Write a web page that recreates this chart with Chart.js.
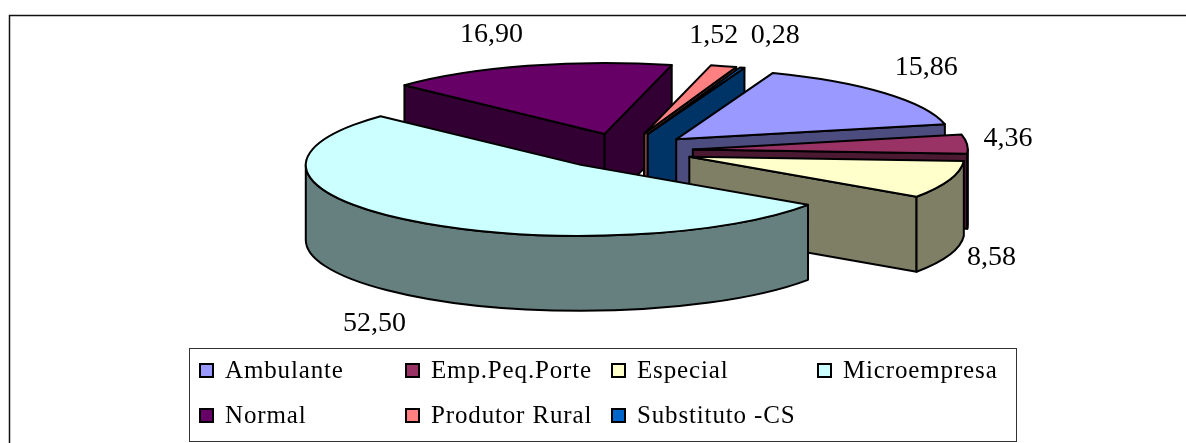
<!DOCTYPE html>
<html>
<head>
<meta charset="utf-8">
<style>
  html, body { margin: 0; padding: 0; background: #fff; }
  canvas { display: block; }
</style>
<script src="https://cdn.jsdelivr.net/npm/chart.js@4/dist/chart.umd.js"></script>
</head>
<body>
<canvas id="pieChart" width="1186" height="443"></canvas>
<script>
const categories = ['Ambulante', 'Emp.Peq.Porte', 'Especial', 'Microempresa', 'Normal', 'Produtor Rural', 'Substituto -CS'];
const shares = [15.86, 4.36, 8.58, 52.50, 16.90, 1.52, 0.28];
const sliceColors = ['#9999FF', '#993366', '#FFFFCC', '#CCFFFF', '#660066', '#FF8080', '#0066CC'];

// how the flat pie is tilted, exploded and extruded
const TILT = 0.258;
const DEPTH = 75;
const PIE_RADIUS = 275;
const EXPLODE = 69;
const EDGE = 2;

// label shift away from the rim point of each slice
const labelShift = [[42, -25], [41, -5], [42, 78], [-34, 103], [-36, -31], [-10, -30], [33, -32]];

// legend grid
const legendColumns = [199, 405, 611, 817];
const legendRows = [371, 416];

// halves each channel, the darker tone of the slice walls
function wallColor(hex) {
  const n = parseInt(hex.slice(1), 16);
  const r = (n >> 16) >> 1;
  const g = ((n >> 8) & 255) >> 1;
  const b = (n & 255) >> 1;
  return `rgb(${r},${g},${b})`;
}

const pie3d = {
  id: 'pie3d',
  // the library's own arcs are painted here, squeezed, after their walls
  beforeDatasetsDraw(chart) {
    const ctx = chart.ctx;
    const arcs = chart.getDatasetMeta(0).data;
    const order = arcs.map((arc, i) => i).sort((a, b) => {
      const midA = (arcs[a].startAngle + arcs[a].endAngle) / 2;
      const midB = (arcs[b].startAngle + arcs[b].endAngle) / 2;
      return Math.sin(midA) - Math.sin(midB);
    });

    order.forEach(i => {
      const arc = arcs[i];
      const mid = (arc.startAngle + arc.endAngle) / 2;
      const apexX = arc.x + Math.cos(mid) * EXPLODE;
      const apexY = arc.y + Math.sin(mid) * EXPLODE * TILT;
      const R = arc.outerRadius;
      const rimX = a => apexX + Math.cos(a) * R;
      const rimY = a => apexY + Math.sin(a) * R * TILT;

      ctx.save();
      ctx.fillStyle = wallColor(sliceColors[i]);
      ctx.strokeStyle = '#000';
      ctx.lineWidth = EDGE;
      ctx.lineJoin = 'round';

      const radialWall = a => {
        ctx.beginPath();
        ctx.moveTo(apexX, apexY);
        ctx.lineTo(rimX(a), rimY(a));
        ctx.lineTo(rimX(a), rimY(a) + DEPTH);
        ctx.lineTo(apexX, apexY + DEPTH);
        ctx.closePath();
        ctx.fill();
        ctx.stroke();
      };
      // a radial wall only faces the viewer on one side of the pie
      if (Math.cos(arc.startAngle) < 0) radialWall(arc.startAngle);
      if (Math.cos(arc.endAngle) > 0) radialWall(arc.endAngle);

      // outer wall, only the front half of the rim
      const twoPi = Math.PI * 2;
      const from = ((arc.startAngle % twoPi) + twoPi) % twoPi;
      const to = from + (arc.endAngle - arc.startAngle);
      const a0 = from > Math.PI ? (to > twoPi ? twoPi : null) : from;
      const a1 = a0 === null ? null : Math.min(to, a0 >= twoPi ? twoPi + Math.PI : Math.PI);
      if (a0 !== null && a1 > a0) {
        ctx.beginPath();
        ctx.ellipse(apexX, apexY, R, R * TILT, 0, a0, a1);
        ctx.lineTo(rimX(a1), rimY(a1) + DEPTH);
        ctx.ellipse(apexX, apexY + DEPTH, R, R * TILT, 0, a1, a0, true);
        ctx.closePath();
        ctx.fill();
        ctx.stroke();
      }
      ctx.restore();

      // top face, filled by the arc element under the squeeze
      ctx.save();
      ctx.translate(0, arc.y);
      ctx.scale(1, TILT);
      ctx.translate(0, -arc.y);
      ctx.translate(Math.cos(mid) * EXPLODE, Math.sin(mid) * EXPLODE);
      arc.draw(ctx, chart.chartArea);
      ctx.restore();

      // outline drawn unsqueezed so the pen stays even
      ctx.save();
      ctx.strokeStyle = '#000';
      ctx.lineWidth = EDGE;
      ctx.lineJoin = 'round';
      ctx.beginPath();
      ctx.moveTo(apexX, apexY);
      ctx.ellipse(apexX, apexY, R, R * TILT, 0, arc.startAngle, arc.endAngle);
      ctx.closePath();
      ctx.stroke();
      ctx.restore();
    });
    return false;
  },
  afterDraw(chart) {
    const ctx = chart.ctx;
    const arcs = chart.getDatasetMeta(0).data;

    ctx.save();
    ctx.fillStyle = '#000';
    ctx.textBaseline = 'middle';

    // value labels
    ctx.font = '28px "Liberation Serif"';
    ctx.textAlign = 'center';
    arcs.forEach((arc, i) => {
      const mid = (arc.startAngle + arc.endAngle) / 2;
      const reach = EXPLODE + arc.outerRadius;
      const x = arc.x + Math.cos(mid) * reach + labelShift[i][0];
      const y = arc.y + Math.sin(mid) * reach * TILT + labelShift[i][1];
      ctx.fillText(shares[i].toFixed(2).replace('.', ','), x, y);
    });

    // outer frame, runs off the right and bottom of the page
    ctx.strokeStyle = '#111';
    ctx.lineWidth = 1.5;
    ctx.strokeRect(9.5, 15.5, 1300, 500);

    // legend box
    ctx.fillStyle = '#fff';
    ctx.strokeStyle = '#333';
    ctx.lineWidth = 1;
    ctx.fillRect(189.5, 348.5, 827, 93);
    ctx.strokeRect(189.5, 348.5, 827, 93);

    ctx.font = '25px "Liberation Serif"';
    ctx.textAlign = 'left';
    ctx.textBaseline = 'alphabetic';
    ctx.letterSpacing = '0.85px';
    categories.forEach((name, i) => {
      const x = legendColumns[i % 4];
      const y = legendRows[Math.floor(i / 4)];
      ctx.fillStyle = sliceColors[i];
      ctx.strokeStyle = '#000';
      ctx.lineWidth = 2;
      ctx.fillRect(x + 1, y - 7, 13, 13);
      ctx.strokeRect(x + 1, y - 7, 13, 13);
      ctx.fillStyle = '#000';
      ctx.fillText(name, x + 26, y + 7);
    });
    ctx.restore();
  }
};

new Chart(document.getElementById('pieChart'), {
  type: 'pie',
  data: {
    labels: categories,
    datasets: [{
      data: shares,
      backgroundColor: sliceColors,
      borderWidth: 0
    }]
  },
  options: {
    responsive: false,
    animation: false,
    radius: PIE_RADIUS,
    rotation: 20.6,
    // keeps the pie centre at x 624, y 151
    layout: { padding: { left: 62, bottom: 141 } },
    plugins: { legend: { display: false }, tooltip: { enabled: false } }
  },
  plugins: [pie3d]
});
</script>
</body>
</html>
